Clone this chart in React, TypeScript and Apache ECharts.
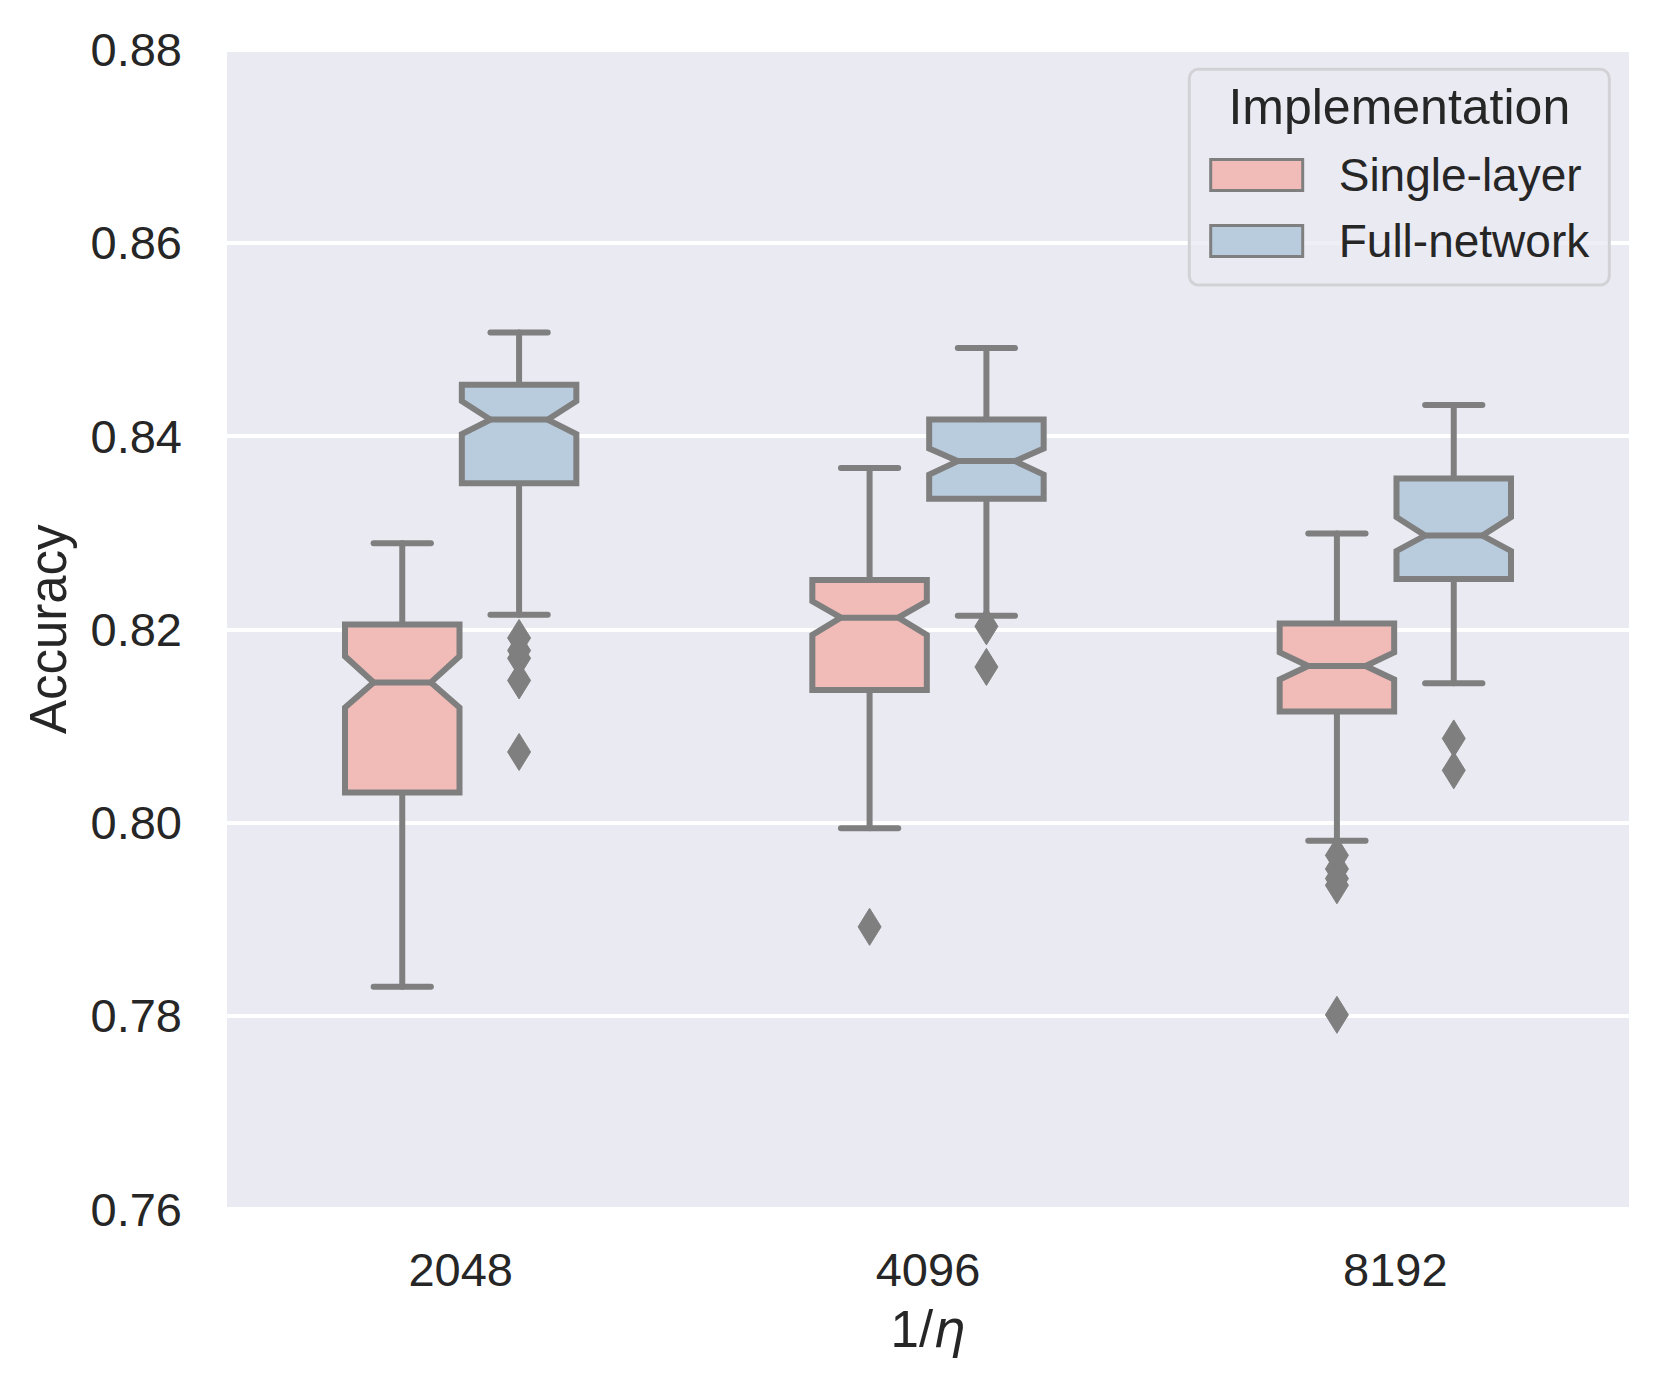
import React, { useEffect, useRef } from 'react';
import * as echarts from 'echarts';

// ---------- data ----------
const categories = ['2048', '4096', '8192'];
const hueNames = ['Single-layer', 'Full-network'];
// each row: [lowerWhisker, q1, notchLow, median, notchHigh, q3, upperWhisker]
const singleLayerStats = [
  [0.783, 0.8031, 0.8119, 0.8145, 0.8172, 0.8205, 0.8289],
  [0.7994, 0.8137, 0.8194, 0.8212, 0.8229, 0.8251, 0.8367],
  [0.7981, 0.8115, 0.8148, 0.8162, 0.8176, 0.8206, 0.8299],
];
const fullNetworkStats = [
  [0.8215, 0.8351, 0.8402, 0.8417, 0.8436, 0.8453, 0.8507],
  [0.8214, 0.8335, 0.836, 0.8374, 0.8387, 0.8417, 0.8491],
  [0.8144, 0.8252, 0.8281, 0.8297, 0.8316, 0.8356, 0.8432],
];
const singleLayerOutliers = [
  [],
  [0.7892],
  [0.7966, 0.7952, 0.7942, 0.7935, 0.7801],
];
const fullNetworkOutliers = [
  [0.8191, 0.8178, 0.817, 0.8147, 0.8073],
  [0.8203, 0.8161],
  [0.8087, 0.8054],
];
const yMin = 0.76;
const yMax = 0.88;
const yStep = 0.02;

// ---------- style ----------
const FONT = "'Liberation Sans', Arial, Helvetica, sans-serif";
const TEXT = '#262626';
const LINE = '#7f7f7f';
const FILLS = ['#F1BCB8', '#B9CCDD'];
const BG = '#EAEAF2';
const LW = 6;

function hueOffset(hue: number) {
  return hue === 0 ? -0.125 : 0.125;
}

function boxRenderer(hue: number) {
  return (params: any, api: any) => {
    const cat = api.value(0);
    const band = api.size([1, 0])[0];
    const boxW = band * 0.245;
    const xc = api.coord([cat, yMin])[0] + hueOffset(hue) * band;
    const y = (i: number) => api.coord([cat, api.value(i)])[1];
    const wl = y(1), q1 = y(2), nl = y(3), md = y(4), nh = y(5), q3 = y(6), wh = y(7);
    const xl = xc - boxW / 2;
    const xr = xc + boxW / 2;
    const inset = boxW / 4;
    const capHalf = boxW / 4;
    const lineStyle = { stroke: LINE, lineWidth: LW, lineCap: 'round' };
    return {
      type: 'group',
      children: [
        { type: 'line', shape: { x1: xc, y1: q3, x2: xc, y2: wh }, style: lineStyle },
        { type: 'line', shape: { x1: xc, y1: q1, x2: xc, y2: wl }, style: lineStyle },
        { type: 'line', shape: { x1: xc - capHalf, y1: wh, x2: xc + capHalf, y2: wh }, style: lineStyle },
        { type: 'line', shape: { x1: xc - capHalf, y1: wl, x2: xc + capHalf, y2: wl }, style: lineStyle },
        {
          type: 'polygon',
          shape: {
            points: [
              [xl, q3], [xr, q3], [xr, nh], [xr - inset, md], [xr, nl], [xr, q1],
              [xl, q1], [xl, nl], [xl + inset, md], [xl, nh],
            ],
          },
          style: { fill: FILLS[hue], stroke: LINE, lineWidth: LW, lineJoin: 'miter' },
        },
        {
          type: 'line',
          shape: { x1: xl + inset, y1: md, x2: xr - inset, y2: md },
          style: { stroke: LINE, lineWidth: LW, lineCap: 'butt' },
        },
      ],
    };
  };
}

function outlierRenderer(hue: number) {
  return (params: any, api: any) => {
    const cat = api.value(0);
    const band = api.size([1, 0])[0];
    const p = api.coord([cat, api.value(1)]);
    const x = p[0] + hueOffset(hue) * band;
    const yy = p[1];
    const hw = 11.5;
    const hh = 18.5;
    return {
      type: 'polygon',
      shape: { points: [[x, yy - hh], [x + hw, yy], [x, yy + hh], [x - hw, yy]] },
      style: { fill: LINE, stroke: LINE, lineWidth: 1 },
    };
  };
}

function flattenOutliers(list: number[][]) {
  const out: number[][] = [];
  list.forEach((vals, i) => vals.forEach((v) => out.push([i, v])));
  return out;
}

export default function App() {
  const ref = useRef<HTMLDivElement>(null);

  useEffect(() => {
    if (!ref.current) return;
    const chart = echarts.init(ref.current, undefined, { renderer: 'svg' });
    const statsByHue = [singleLayerStats, fullNetworkStats];
    const outliersByHue = [singleLayerOutliers, fullNetworkOutliers];

    const series: any[] = [];
    hueNames.forEach((name, h) => {
      series.push({
        name,
        type: 'custom',
        renderItem: boxRenderer(h),
        data: statsByHue[h].map((s, i) => [i, ...s]),
        encode: { x: 0, y: [1, 2, 3, 4, 5, 6, 7] },
        itemStyle: { color: FILLS[h] },
        z: 2,
      });
    });
    hueNames.forEach((name, h) => {
      series.push({
        name,
        type: 'custom',
        renderItem: outlierRenderer(h),
        data: flattenOutliers(outliersByHue[h]),
        encode: { x: 0, y: 1 },
        itemStyle: { color: FILLS[h] },
        z: 3,
      });
    });

    chart.setOption({
      animation: false,
      backgroundColor: '#ffffff',
      textStyle: { fontFamily: FONT, color: TEXT },
      grid: {
        left: 227,
        right: 33,
        top: 49.5,
        bottom: 183,
        show: true,
        backgroundColor: BG,
        borderWidth: 0,
      },
      xAxis: {
        type: 'category',
        data: categories,
        axisLine: { show: false },
        axisTick: { show: false },
        splitLine: { show: false },
        axisLabel: { fontSize: 47, lineHeight: 47, margin: 37, color: TEXT, fontFamily: FONT },
        name: '{a|1/}{b|η}',
        nameLocation: 'middle',
        nameGap: 94,
        nameTextStyle: {
          rich: {
            a: { fontSize: 51, lineHeight: 52, fontFamily: FONT, color: TEXT },
            b: { fontSize: 51, lineHeight: 52, fontFamily: "'DejaVu Sans', sans-serif", fontStyle: 'italic', color: TEXT },
          },
        },
      },
      yAxis: {
        type: 'value',
        min: yMin,
        max: yMax,
        interval: yStep,
        axisLine: { show: false },
        axisTick: { show: false },
        splitLine: { show: true, lineStyle: { color: '#ffffff', width: 4 } },
        axisLabel: {
          fontSize: 47,
          lineHeight: 47,
          margin: 45,
          color: TEXT,
          fontFamily: FONT,
          formatter: (v: number) => v.toFixed(2),
        },
        name: 'Accuracy',
        nameLocation: 'middle',
        nameGap: 153,
        nameTextStyle: { fontSize: 51, lineHeight: 51, color: TEXT, fontFamily: FONT },
      },
      legend: {
        orient: 'vertical',
        left: 1209.2,
        top: 152,
        padding: 0,
        itemWidth: 92,
        itemHeight: 31,
        itemGap: 20,
        selectedMode: false,
        z: 6,
        data: hueNames.map((n, i) => ({
          name: n,
          icon: 'rect',
          itemStyle: { color: FILLS[i], borderColor: LINE, borderWidth: 3 },
        })),
        textStyle: { fontSize: 46, lineHeight: 46, color: TEXT, fontFamily: FONT, padding: [0, 0, 0, 31] },
      },
      graphic: [
        {
          type: 'rect',
          z: 5,
          shape: { x: 1189.3, y: 69.3, width: 420, height: 215.7, r: 9 },
          style: { fill: 'rgba(234,234,242,0.8)', stroke: '#d2d2d6', lineWidth: 3 },
        },
        {
          type: 'text',
          z: 7,
          x: 1399.3,
          y: 106.7,
          style: {
            text: 'Implementation',
            fontSize: 50,
            fontFamily: FONT,
            fill: TEXT,
            align: 'center',
            verticalAlign: 'middle',
          },
        },
      ],
      series,
    });
    return () => chart.dispose();
  }, []);

  return (
    <div
      ref={ref}
      style={{ position: 'absolute', left: 0, top: 0, width: 1662, height: 1392, background: '#fff' }}
    />
  );
}
